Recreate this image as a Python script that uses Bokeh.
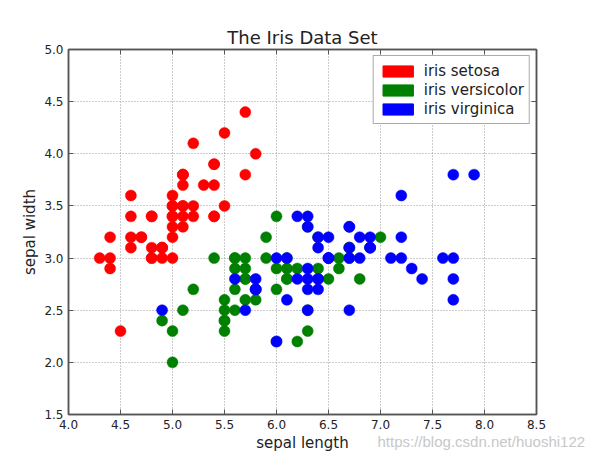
from bokeh.plotting import figure
from bokeh.models import (LinearAxis, FixedTicker, PrintfTickFormatter, Legend,
                          LegendItem, Range1d, Label)
from bokeh.embed import file_html
from bokeh.resources import INLINE

# ---- data (Iris: sepal length, sepal width) ----
setosa_len = [5.1, 4.9, 4.7, 4.6, 5.0, 5.4, 4.6, 5.0, 4.4, 4.9, 5.4, 4.8, 4.8, 4.3, 5.8,
              5.7, 5.4, 5.1, 5.7, 5.1, 5.4, 5.1, 4.6, 5.1, 4.8, 5.0, 5.0, 5.2, 5.2, 4.7,
              4.8, 5.4, 5.2, 5.5, 4.9, 5.0, 5.5, 4.9, 4.4, 5.1, 5.0, 4.5, 4.4, 5.0, 5.1,
              4.8, 5.1, 4.6, 5.3, 5.0]
setosa_wid = [3.5, 3.0, 3.2, 3.1, 3.6, 3.9, 3.4, 3.4, 2.9, 3.1, 3.7, 3.4, 3.0, 3.0, 4.0,
              4.4, 3.9, 3.5, 3.8, 3.8, 3.4, 3.7, 3.6, 3.3, 3.4, 3.0, 3.4, 3.5, 3.4, 3.2,
              3.1, 3.4, 4.1, 4.2, 3.1, 3.2, 3.5, 3.1, 3.0, 3.4, 3.5, 2.3, 3.2, 3.5, 3.8,
              3.0, 3.8, 3.2, 3.7, 3.3]
versicolor_len = [7.0, 6.4, 6.9, 5.5, 6.5, 5.7, 6.3, 4.9, 6.6, 5.2, 5.0, 5.9, 6.0, 6.1, 5.6,
                  6.7, 5.6, 5.8, 6.2, 5.6, 5.9, 6.1, 6.3, 6.1, 6.4, 6.6, 6.8, 6.7, 6.0, 5.7,
                  5.5, 5.5, 5.8, 6.0, 5.4, 6.0, 6.7, 6.3, 5.6, 5.5, 5.5, 6.1, 5.8, 5.0, 5.6,
                  5.7, 5.7, 6.2, 5.1, 5.7]
versicolor_wid = [3.2, 3.2, 3.1, 2.3, 2.8, 2.8, 3.3, 2.4, 2.9, 2.7, 2.0, 3.0, 2.2, 2.9, 2.9,
                  3.1, 3.0, 2.7, 2.2, 2.5, 3.2, 2.8, 2.5, 2.8, 2.9, 3.0, 2.8, 3.0, 2.9, 2.6,
                  2.4, 2.4, 2.7, 2.7, 3.0, 3.4, 3.1, 2.3, 3.0, 2.5, 2.6, 3.0, 2.6, 2.3, 2.7,
                  3.0, 2.9, 2.9, 2.5, 2.8]
virginica_len = [6.3, 5.8, 7.1, 6.3, 6.5, 7.6, 4.9, 7.3, 6.7, 7.2, 6.5, 6.4, 6.8, 5.7, 5.8,
                 6.4, 6.5, 7.7, 7.7, 6.0, 6.9, 5.6, 7.7, 6.3, 6.7, 7.2, 6.2, 6.1, 6.4, 7.2,
                 7.4, 7.9, 6.4, 6.3, 6.1, 7.7, 6.3, 6.4, 6.0, 6.9, 6.7, 6.9, 5.8, 6.8, 6.7,
                 6.7, 6.3, 6.5, 6.2]
virginica_wid = [3.3, 2.7, 3.0, 2.9, 3.0, 3.0, 2.5, 2.9, 2.5, 3.6, 3.2, 2.7, 3.0, 2.5, 2.8,
                 3.2, 3.0, 3.8, 2.6, 2.2, 3.2, 2.8, 2.8, 2.7, 3.3, 3.2, 2.8, 3.0, 2.8, 3.0,
                 2.8, 3.8, 2.8, 2.8, 2.6, 3.0, 3.4, 3.1, 3.0, 3.1, 3.1, 3.1, 2.7, 3.2, 3.3,
                 3.0, 2.5, 3.0, 3.4]
species = ["iris setosa", "iris versicolor", "iris virginica"]
colors = ["#ff0000", "#008000", "#0000ff"]
x_ticks = [4.0, 4.5, 5.0, 5.5, 6.0, 6.5, 7.0, 7.5, 8.0, 8.5]
y_ticks = [1.5, 2.0, 2.5, 3.0, 3.5, 4.0, 4.5, 5.0]
watermark = "https://blog.csdn.net/huoshi122"

FONT = "DejaVu Sans"
AX = "#555555"
TXT = "#222222"

p = figure(frame_width=468, frame_height=365,
           x_range=Range1d(x_ticks[0], x_ticks[-1]), y_range=Range1d(y_ticks[0], y_ticks[-1]),
           output_backend="svg", toolbar_location=None,
           min_border_left=68, min_border_right=67, min_border_top=49, min_border_bottom=8,
           title="The Iris Data Set", x_axis_label="sepal length", y_axis_label="sepal width")
p.background_fill_color = "white"
p.border_fill_color = "white"
p.outline_line_color = AX
p.outline_line_width = 1.5

p.title.align = "center"
p.title.text_font = FONT
p.title.text_font_size = "18px"
p.title.text_font_style = "normal"
p.title.text_color = TXT
p.title.standoff = 3

xt = FixedTicker(ticks=x_ticks)
yt = FixedTicker(ticks=y_ticks)

for ax, tk in ((p.xaxis[0], xt), (p.yaxis[0], yt)):
    ax.ticker = tk
    ax.formatter = PrintfTickFormatter(format="%.1f")
    ax.major_label_text_font = FONT
    ax.major_label_text_font_size = "12px"
    ax.major_label_text_color = TXT
    ax.axis_label_text_font = FONT
    ax.axis_label_text_font_size = "15px"
    ax.axis_label_text_font_style = "normal"
    ax.axis_label_text_color = TXT
    ax.major_tick_in = 5
    ax.major_tick_out = 0
    ax.minor_tick_line_color = None
    ax.axis_line_color = AX
    ax.axis_line_width = 1.5
    ax.major_tick_line_color = AX
p.xaxis.major_label_standoff = 5
p.xaxis.axis_label_standoff = 2
p.yaxis.major_label_standoff = 5
p.yaxis.axis_label_standoff = 2

for loc, tk, vals in (("right", yt, y_ticks), ("above", xt, x_ticks)):
    a = LinearAxis(ticker=tk, major_label_overrides={v: "" for v in vals})
    a.major_tick_in = 5
    a.major_tick_out = 0
    a.minor_tick_line_color = None
    a.axis_line_color = AX
    a.axis_line_width = 1.5
    a.major_tick_line_color = AX
    a.major_label_standoff = 0
    a.major_label_text_font_size = "1px"
    p.add_layout(a, loc)

for g, tk in ((p.xgrid[0], xt), (p.ygrid[0], yt)):
    g.ticker = tk
    g.grid_line_color = "#999999"
    g.grid_line_dash = "1 2"
    g.grid_line_width = 1

data = [(setosa_len, setosa_wid), (versicolor_len, versicolor_wid), (virginica_len, virginica_wid)]
items = []
for (xs, ys), name, c in zip(data, species, colors):
    p.scatter(xs, ys, size=11, fill_color=c, line_color=c, line_width=0.5)
    # legend swatch: a rectangle glyph placed far outside the visible ranges
    swatch = p.quad(left=[100], right=[101], top=[101], bottom=[100], fill_color=c, line_color=c)
    items.append(LegendItem(label=name, renderers=[swatch]))

legend = Legend(items=items, location="top_right")
legend.margin = 6
legend.padding = 5
legend.spacing = 0
legend.label_height = 19
legend.glyph_height = 14
legend.glyph_width = 38
legend.label_standoff = 7
legend.label_text_font = FONT
legend.label_text_font_size = "15px"
legend.label_text_color = TXT
legend.border_line_color = AX
legend.border_line_width = 1.5
legend.background_fill_color = "white"
legend.background_fill_alpha = 1.0
p.add_layout(legend, "center")

wm = Label(x=309, y=30, x_units="screen", y_units="screen", text=watermark,
           text_font="Liberation Sans", text_font_size="15px", text_color="#c8c8c8",
           text_baseline="middle")
p.add_layout(wm, "below")

open("out.html", "w").write(file_html(p, INLINE))
